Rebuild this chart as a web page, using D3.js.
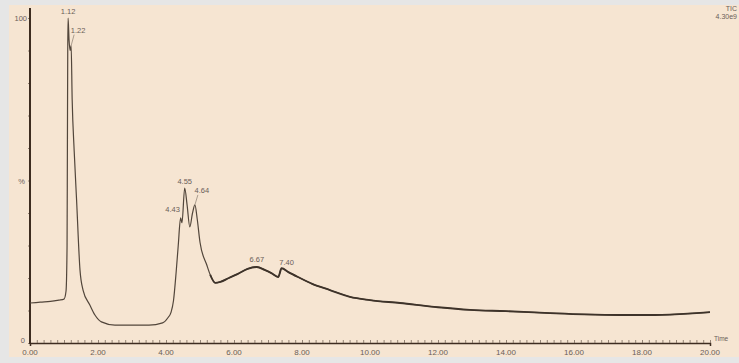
<!DOCTYPE html>
<html><head><meta charset="utf-8">
<script src="https://cdn.jsdelivr.net/npm/d3@7"></script>
<style>html,body{margin:0;padding:0;background:#e6e6e6;}svg{display:block;}</style>
</head><body>
<svg id="c" width="739" height="363"></svg>
<script>
// ---- data ----
const times = [0,0.3,0.6,0.85,1.00,1.06,1.09,1.10,1.11,1.12,1.15,1.18,1.21,1.24,1.30,1.37,1.47,1.56,1.76,1.91,2.1,2.5,3.0,3.5,3.9,4.05,4.15,4.22,4.30,4.36,4.43,4.47,4.55,4.62,4.70,4.78,4.85,4.92,5.0,5.2,5.3,5.45,5.6,5.85,6.1,6.4,6.67,6.9,7.1,7.3,7.40,7.6,7.94,8.3,8.82,9.41,10.0,10.88,12.0,12.94,14.0,15.29,16.3,17.35,18.2,19.1,19.6,20.0];
const abundance = [12.3,12.6,12.8,13.2,13.5,16,30,60,90,100,93,90,91.5,75,59,44,22.5,16.3,11.7,8.6,6.5,5.5,5.5,5.5,6.2,7.7,9.5,13,22,30,38.5,37,47.7,42.5,35.7,40,42.5,38,31,24,21,18.5,18.8,20,21.2,22.8,23.4,22.5,21.5,20.3,23,21.8,20,18.2,16.3,14.2,13.2,12.3,11,10.2,9.8,9.2,8.8,8.6,8.6,8.9,9.2,9.5];
const peakLabels = ["1.12","1.22","4.43","4.55","4.64","6.67","7.40"];
const peakTimes  = [1.12,1.21,4.43,4.55,4.85,6.67,7.40];
const peakValues = [100,91.5,38.5,47.7,42.5,23.4,23];
const xTickLabels = ["0.00","2.00","4.00","6.00","8.00","10.00","12.00","14.00","16.00","18.00","20.00"];
const xTickValues = [0,2,4,6,8,10,12,14,16,18,20];

const svg = d3.select("#c");
const W=739,H=363;
svg.append("rect").attr("x",0).attr("y",0).attr("width",W).attr("height",H).attr("fill","#e6e6e6");
svg.append("rect").attr("x",9).attr("y",5).attr("width",W-9).attr("height",352).attr("fill","#f6e5d2");

const x = d3.scaleLinear().domain([0,20]).range([30,710]);
const y = d3.scaleLinear().domain([0,100]).range([343,18]);
const txt = "#6a6058";
const font = "Liberation Sans, Arial, sans-serif";

// x axis
const xAxis = d3.axisBottom(x).tickValues(d3.range(0,20.01,0.2)).tickSize(3).tickFormat("");
const gx = svg.append("g").attr("transform","translate(0,343)").call(xAxis);
gx.select(".domain").attr("stroke","#3d2c20").attr("stroke-width",1.5);
gx.selectAll(".tick line").attr("stroke","#7a6a5c").attr("stroke-width",0.8).attr("transform","translate(0,-3)");
svg.append("g").selectAll("text").data(xTickValues).join("text")
  .attr("x",d=>x(d)).attr("y",355).attr("text-anchor","middle")
  .attr("font-family",font).attr("font-size",8).attr("fill",txt)
  .text((d,i)=>xTickLabels[i]);

// y axis
const yAxis = d3.axisLeft(y).tickValues(d3.range(0,100.1,10)).tickSize(2).tickFormat("");
const gy = svg.append("g").attr("transform","translate(30,0)").call(yAxis);
gy.select(".domain").remove();
gy.selectAll(".tick line").attr("stroke","#7a6a5c").attr("stroke-width",0.8);
svg.append("line").attr("x1",30).attr("x2",30).attr("y1",8).attr("y2",344)
  .attr("stroke","#3d2c20").attr("stroke-width",2);
svg.append("text").attr("x",27).attr("y",y(100)+3).attr("text-anchor","end")
  .attr("font-family",font).attr("font-size",7.5).attr("fill",txt).text("100");
svg.append("text").attr("x",25).attr("y",y(50)+3).attr("text-anchor","end")
  .attr("font-family",font).attr("font-size",7.5).attr("fill",txt).text("%");
svg.append("text").attr("x",25).attr("y",y(0)+0).attr("text-anchor","end")
  .attr("font-family",font).attr("font-size",7.5).attr("fill",txt).text("0");
svg.append("text").attr("x",714).attr("y",341)
  .attr("font-family",font).attr("font-size",6.5).attr("fill",txt).text("Time");
svg.append("text").attr("x",737).attr("y",11).attr("text-anchor","end")
  .attr("font-family",font).attr("font-size",7).attr("fill",txt).text("TIC");
svg.append("text").attr("x",737).attr("y",19).attr("text-anchor","end")
  .attr("font-family",font).attr("font-size",7).attr("fill",txt).text("4.30e9");

// trace
const pts = times.map((t,i)=>[t,abundance[i]]);
const line = d3.line().x(d=>x(d[0])).y(d=>y(d[1])).curve(d3.curveMonotoneX);
svg.append("path").datum(pts).attr("d",line).attr("fill","none")
  .attr("stroke","#52463b").attr("stroke-width",1.2).attr("stroke-linejoin","round");
// noisy tail drawn heavier, as in the reference
svg.append("path").datum(pts.filter(d=>d[0]>=5.3)).attr("d",line).attr("fill","none")
  .attr("stroke","#3e332a").attr("stroke-width",1.9).attr("stroke-linejoin","round");

// peak labels
const offs = [[0,-4],[7,-13],[-8,-6],[0,-4],[7,-12],[0,-5],[5,-3]];
const g = svg.append("g");
peakLabels.forEach((lab,i)=>{
  const px=x(peakTimes[i]), py=y(peakValues[i]);
  const lx=px+offs[i][0], ly=py+offs[i][1];
  g.append("text").attr("x",lx).attr("y",ly).attr("text-anchor","middle")
    .attr("font-family",font).attr("font-size",7.5).attr("fill",txt).text(lab);
  if(i===1||i===4){
    g.append("line").attr("x1",px).attr("y1",py).attr("x2",lx-4).attr("y2",ly+2)
      .attr("stroke","#8a7c70").attr("stroke-width",0.7);
  }
});
</script>
</body></html>
